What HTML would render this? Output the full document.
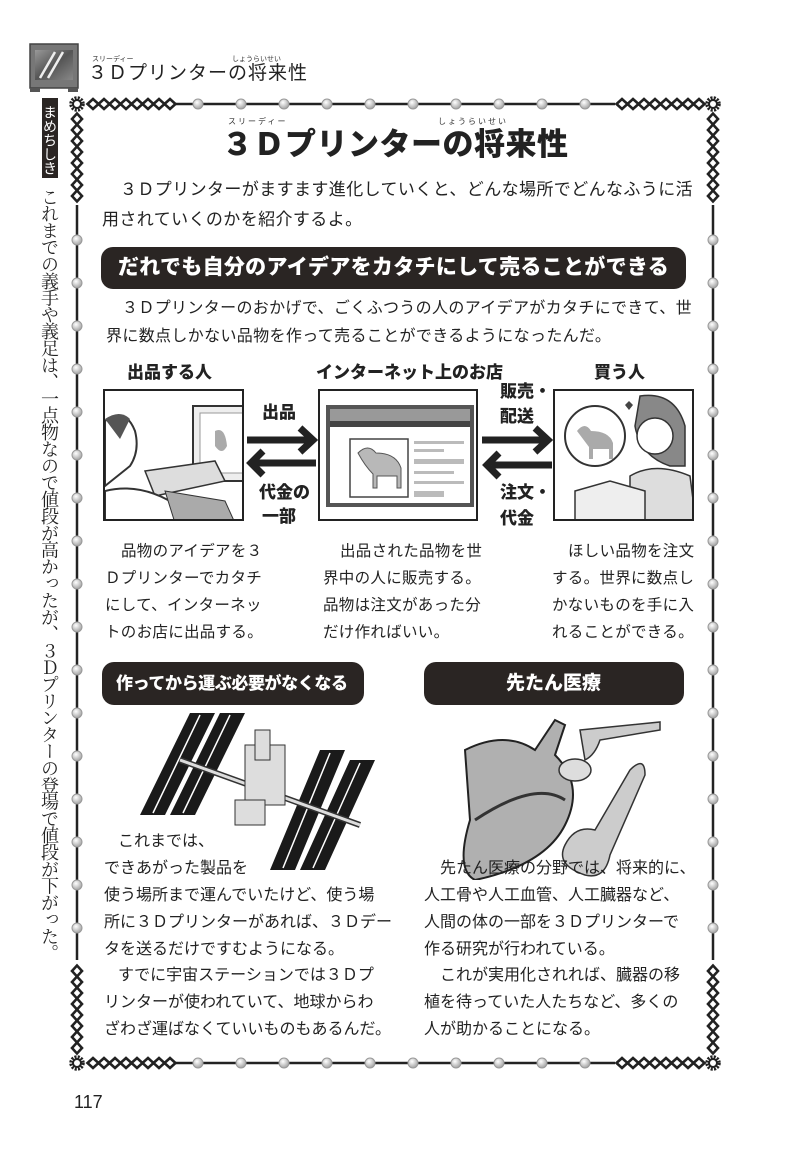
<!DOCTYPE html>
<html><head><meta charset="utf-8">
<style>
*{margin:0;padding:0;box-sizing:border-box}
body{width:785px;height:1152px;background:#fff;position:relative;overflow:hidden;font-family:"Liberation Sans","Noto Sans CJK JP",sans-serif;color:#222}
.a{position:absolute;white-space:nowrap;line-height:1}
.b{font-weight:900}
.pill{position:absolute;background:#2a2523;border-radius:12px;color:#fff;font-weight:900}
.box{position:absolute;border:2px solid #222;background:#fff;overflow:hidden}
.rb{position:absolute;font-size:7px;line-height:1;white-space:nowrap;color:#333}
.t17{font-size:17px;letter-spacing:.4px}
.t16{font-size:16px;letter-spacing:0px}
.t15{font-size:15.5px;letter-spacing:.3px}
</style></head><body>

<svg id="frame" width="785" height="1152" style="position:absolute;left:0;top:0">
<defs>
<radialGradient id="g" cx="40%" cy="35%" r="60%"><stop offset="0" stop-color="#fff"/><stop offset="1" stop-color="#aaa"/></radialGradient>
<linearGradient id="mon" x1="0" y1="0" x2="1" y2="1"><stop offset="0" stop-color="#999"/><stop offset=".5" stop-color="#555"/><stop offset="1" stop-color="#888"/></linearGradient>
</defs>
<rect x="30" y="44" width="48" height="44" fill="#777" stroke="#444" stroke-width="1.5"/>
<rect x="35" y="50" width="38" height="30" fill="url(#mon)"/>
<line x1="40" y1="78" x2="55" y2="52" stroke="#eee" stroke-width="2.5"/>
<line x1="48" y1="78" x2="63" y2="52" stroke="#eee" stroke-width="2.5"/>
<rect x="30" y="88" width="10" height="4" fill="#555"/><rect x="68" y="88" width="10" height="4" fill="#555"/>
<g stroke="#222" stroke-width="2.5">
<line x1="175" y1="104" x2="615" y2="104"/>
<line x1="175" y1="1063" x2="615" y2="1063"/>
<line x1="77" y1="205" x2="77" y2="960"/>
<line x1="713" y1="205" x2="713" y2="960"/>
</g>
<g id="dots"></g>
<g id="chains" fill="none" stroke="#222" stroke-width="2.6"></g>
<g id="suns"></g>
</svg>

<div class="rb" style="left:92px;top:56px">スリーディー</div>
<div class="rb" style="left:232px;top:56px">しょうらいせい</div>
<div class="a" style="left:88px;top:64px;font-size:19px;letter-spacing:1px">３Ｄプリンターの将来性</div>

<div style="position:absolute;left:42px;top:98px;width:16px;height:80px;background:#2a2523;color:#fff;writing-mode:vertical-rl;font-size:14px;line-height:16px;text-align:center;padding-top:4px">まめちしき</div>
<div style="position:absolute;left:38px;top:188px;writing-mode:vertical-rl;font-family:'Liberation Serif','Noto Serif CJK JP','Noto Serif CJK SC',serif;font-size:18px;line-height:22px;letter-spacing:-1.2px;color:#222">これまでの義手や義足は、一点物なので値段が高かったが、３Ｄプリンターの登場で値段が下がった。</div>

<div class="rb" style="left:228px;top:118px;font-size:8px;letter-spacing:2px">スリーディー</div>
<div class="rb" style="left:438px;top:118px;font-size:8px;letter-spacing:2px">しょうらいせい</div>
<div class="a b" style="left:222px;top:129px;font-size:31px;letter-spacing:.5px;color:#222">３Ｄプリンターの将来性</div>

<div class="a t17" style="left:120px;top:181px">３Ｄプリンターがますます進化していくと、どんな場所でどんなふうに活</div>
<div class="a t17" style="left:102px;top:211px">用されていくのかを紹介するよ。</div>

<div class="pill" style="left:101px;top:247px;width:585px;height:42px"></div>
<div class="a b" style="left:118px;top:257px;font-size:21px;color:#fff;letter-spacing:.3px">だれでも自分のアイデアをカタチにして売ることができる</div>

<div class="a" style="left:122px;top:301px;font-size:16px;letter-spacing:.35px">３Ｄプリンターのおかげで、ごくふつうの人のアイデアがカタチにできて、世</div>
<div class="a" style="left:106px;top:329px;font-size:16px;letter-spacing:.35px">界に数点しかない品物を作って売ることができるようになったんだ。</div>

<div class="a b" style="left:127px;top:364px;font-size:17px">出品する人</div>
<div class="a b" style="left:316px;top:364px;font-size:17px">インターネット上のお店</div>
<div class="a b" style="left:594px;top:364px;font-size:17px">買う人</div>

<div class="box" style="left:103px;top:389px;width:141px;height:132px">
<svg width="141" height="132"><rect x="88" y="15" width="55" height="75" fill="#eee" stroke="#333" stroke-width="2"/><rect x="95" y="22" width="45" height="60" fill="#fff" stroke="#999"/><path d="M110 40 q10 -5 12 15 q-5 10 -12 0z" fill="#aaa"/><path d="M40 80 l70 -10 l10 20 l-70 15z" fill="#ddd" stroke="#333" stroke-width="1.5"/><path d="M0 30 q20 -15 30 10 q5 20 -5 35 l-25 20z" fill="#fff" stroke="#333" stroke-width="2"/><path d="M0 28 q15 -10 25 0 l-10 20 z" fill="#555"/><path d="M0 100 q40 -10 80 20 l0 15 l-80 0z" fill="#fff" stroke="#333" stroke-width="2"/><path d="M60 100 l60 10 l10 22 l-60 0z" fill="#aaa" stroke="#333"/></svg></div>
<div class="box" style="left:318px;top:389px;width:160px;height:132px">
<svg width="160" height="132"><rect x="6" y="14" width="148" height="102" fill="#555"/><rect x="10" y="18" width="140" height="94" fill="#fff"/><rect x="10" y="18" width="140" height="12" fill="#999"/><rect x="10" y="30" width="140" height="6" fill="#444"/><rect x="30" y="48" width="58" height="58" fill="#fff" stroke="#444" stroke-width="1.5"/><path d="M38 62 q10 -10 18 0 q20 0 25 15 l0 20 l-4 0 l0 -12 l-20 0 l0 12 l-4 0 l0 -14 q-8 -8 -15 -21z" fill="#b8b8b8" stroke="#555"/><g fill="#bbb"><rect x="94" y="50" width="50" height="3"/><rect x="94" y="58" width="30" height="3"/><rect x="94" y="68" width="50" height="5"/><rect x="94" y="80" width="40" height="3"/><rect x="94" y="90" width="50" height="3"/><rect x="94" y="100" width="30" height="6"/></g></svg></div>
<div class="box" style="left:553px;top:389px;width:141px;height:132px">
<svg width="141" height="132"><circle cx="40" cy="45" r="30" fill="#fff" stroke="#333" stroke-width="2"/><path d="M22 40 q8 -10 14 0 q18 0 22 12 l0 16 l-4 0 l0 -10 l-16 0 l0 10 l-4 0 l0 -12z" fill="#aaa"/><path d="M85 5 q35 -5 45 30 l0 40 l-15 0 q-30 -10 -35 -40z" fill="#888" stroke="#333" stroke-width="1.5"/><circle cx="100" cy="45" r="18" fill="#fff" stroke="#333" stroke-width="1.5"/><path d="M75 85 q25 -15 60 0 l6 47 l-66 0z" fill="#ddd" stroke="#333" stroke-width="1.5"/><path d="M20 100 l35 -10 l35 10 l0 32 l-70 0z" fill="#eee" stroke="#333" stroke-width="1.5"/><path d="M70 14 l4 -4 l4 4 l-4 5z" fill="#444"/></svg></div>

<svg width="785" height="1152" style="position:absolute;left:0;top:0" fill="none" stroke="#222" stroke-width="7" stroke-linejoin="miter">
<line x1="247" y1="440" x2="310" y2="440"/><polyline points="300,428 313,440 300,452"/>
<line x1="256" y1="463" x2="316" y2="463"/><polyline points="263,451 251,463 263,475"/>
<line x1="482" y1="440" x2="545" y2="440"/><polyline points="535,428 548,440 535,452"/>
<line x1="492" y1="465" x2="552" y2="465"/><polyline points="499,453 487,465 499,477"/>
</svg>
<div class="a b" style="left:262px;top:404px;font-size:17px">出品</div>
<div class="a b" style="left:259px;top:484px;font-size:17px">代金の</div>
<div class="a b" style="left:262px;top:508px;font-size:17px">一部</div>
<div class="a b" style="left:500px;top:383px;font-size:17px">販売・</div>
<div class="a b" style="left:500px;top:408px;font-size:17px">配送</div>
<div class="a b" style="left:500px;top:484px;font-size:17px">注文・</div>
<div class="a b" style="left:500px;top:510px;font-size:17px">代金</div>

<div class="a t15" style="left:121px;top:544px">品物のアイデアを３</div>
<div class="a t15" style="left:105px;top:571px">Ｄプリンターでカタチ</div>
<div class="a t15" style="left:105px;top:598px">にして、インターネッ</div>
<div class="a t15" style="left:105px;top:625px">トのお店に出品する。</div>
<div class="a t15" style="left:340px;top:544px">出品された品物を世</div>
<div class="a t15" style="left:323px;top:571px">界中の人に販売する。</div>
<div class="a t15" style="left:323px;top:598px">品物は注文があった分</div>
<div class="a t15" style="left:323px;top:625px">だけ作ればいい。</div>
<div class="a t15" style="left:568px;top:544px">ほしい品物を注文</div>
<div class="a t15" style="left:552px;top:571px">する。世界に数点し</div>
<div class="a t15" style="left:552px;top:598px">かないものを手に入</div>
<div class="a t15" style="left:552px;top:625px">れることができる。</div>

<div class="pill" style="left:102px;top:662px;width:262px;height:43px"></div>
<div class="a b" style="left:116px;top:675px;font-size:17px;letter-spacing:-.4px;color:#fff">作ってから運ぶ必要がなくなる</div>
<div class="pill" style="left:424px;top:662px;width:260px;height:43px"></div>
<div class="a b" style="left:506px;top:674px;font-size:19px;color:#fff">先たん医療</div>

<svg width="260" height="170" style="position:absolute;left:135px;top:705px">
<g fill="#1a1a1a"><polygon points="55,8 80,8 30,110 5,110"/><polygon points="85,8 110,8 60,110 35,110"/>
<polygon points="185,45 210,45 160,165 135,165"/><polygon points="215,55 240,55 190,165 165,165"/></g>
<g stroke="#fff" stroke-width="1.5"><line x1="65" y1="10" x2="18" y2="108"/><line x1="95" y1="10" x2="48" y2="108"/><line x1="195" y1="48" x2="148" y2="163"/><line x1="225" y1="58" x2="178" y2="163"/></g>
<line x1="45" y1="55" x2="225" y2="120" stroke="#333" stroke-width="6"/>
<line x1="45" y1="55" x2="225" y2="120" stroke="#ddd" stroke-width="3"/>
<g fill="#ddd" stroke="#333"><rect x="110" y="40" width="40" height="60"/><rect x="120" y="25" width="15" height="30"/><rect x="100" y="95" width="30" height="25"/></g>
</svg>
<svg width="250" height="170" style="position:absolute;left:435px;top:710px">
<path d="M30 40 q40 -20 70 0 l20 -30 l10 5 l-10 30 q30 30 10 70 q-20 40 -90 55 q-20 -10 -5 -60z" fill="#b0b0b0" stroke="#222" stroke-width="2"/>
<path d="M40 110 q60 -40 90 -20" stroke="#333" stroke-width="3" fill="none"/>
<path d="M145 20 l80 -8 l0 8 l-60 10 q-5 15 -15 20z" fill="#ccc" stroke="#333" stroke-width="1.5"/>
<ellipse cx="140" cy="60" rx="16" ry="11" fill="#ddd" stroke="#333" stroke-width="1.5"/>
<path d="M195 60 q15 -15 15 5 l-35 80 q-5 25 -25 20 q-30 -10 -20 -30 q10 -20 30 -15z" fill="#ccc" stroke="#333" stroke-width="1.5"/>
</svg>

<div class="a t16" style="left:118px;top:834px">これまでは、</div>
<div class="a t16" style="left:104px;top:861px">できあがった製品を</div>
<div class="a t16" style="left:104px;top:888px">使う場所まで運んでいたけど、使う場</div>
<div class="a t16" style="left:104px;top:915px">所に３Ｄプリンターがあれば、３Ｄデー</div>
<div class="a t16" style="left:104px;top:942px">タを送るだけですむようになる。</div>
<div class="a t16" style="left:118px;top:968px">すでに宇宙ステーションでは３Ｄプ</div>
<div class="a t16" style="left:104px;top:995px">リンターが使われていて、地球からわ</div>
<div class="a t16" style="left:104px;top:1022px">ざわざ運ばなくていいものもあるんだ。</div>

<div class="a t16" style="left:440px;top:861px">先たん医療の分野では、将来的に、</div>
<div class="a t16" style="left:424px;top:888px">人工骨や人工血管、人工臓器など、</div>
<div class="a t16" style="left:424px;top:915px">人間の体の一部を３Ｄプリンターで</div>
<div class="a t16" style="left:424px;top:942px">作る研究が行われている。</div>
<div class="a t16" style="left:440px;top:968px">これが実用化されれば、臓器の移</div>
<div class="a t16" style="left:424px;top:995px">植を待っていた人たちなど、多くの</div>
<div class="a t16" style="left:424px;top:1022px">人が助かることになる。</div>

<div class="a" style="left:74px;top:1093px;font-size:18px">117</div>

<script>
var NS="http://www.w3.org/2000/svg";
function el(p,t,a){var e=document.createElementNS(NS,t);for(var k in a)e.setAttribute(k,a[k]);p.appendChild(e);return e;}
var dots=document.getElementById('dots'),ch=document.getElementById('chains'),su=document.getElementById('suns');
for(var x=198;x<=600;x+=43){el(dots,'circle',{cx:x,cy:104,r:5,fill:'url(#g)',stroke:'#999','stroke-width':1});el(dots,'circle',{cx:x,cy:1063,r:5,fill:'url(#g)',stroke:'#999','stroke-width':1});}
for(var y=240;y<=940;y+=43){el(dots,'circle',{cx:77,cy:y,r:5,fill:'url(#g)',stroke:'#999','stroke-width':1});el(dots,'circle',{cx:713,cy:y,r:5,fill:'url(#g)',stroke:'#999','stroke-width':1});}
function chainH(x0,y,n){for(var i=0;i<n;i++){var cx=x0+i*11;el(ch,'path',{d:'M'+(cx-5.5)+' '+y+' L'+cx+' '+(y-5)+' L'+(cx+5.5)+' '+y+' L'+cx+' '+(y+5)+'Z'});}}
function chainV(x,y0,n){for(var i=0;i<n;i++){var cy=y0+i*11;el(ch,'path',{d:'M'+x+' '+(cy-5.5)+' L'+(x-5)+' '+cy+' L'+x+' '+(cy+5.5)+' L'+(x+5)+' '+cy+'Z'});}}
chainH(93,104,8);chainH(622,104,8);chainH(93,1063,8);chainH(622,1063,8);
chainV(77,119,8);chainV(713,119,8);chainV(77,971,8);chainV(713,971,8);
[[77,104],[713,104],[77,1063],[713,1063]].forEach(function(p){el(su,'circle',{cx:p[0],cy:p[1],r:6,fill:'none',stroke:'#222','stroke-width':3.5,'stroke-dasharray':'2 1.2'});el(su,'circle',{cx:p[0],cy:p[1],r:4,fill:'#fff',stroke:'#222','stroke-width':2});});
</script>
</body></html>
